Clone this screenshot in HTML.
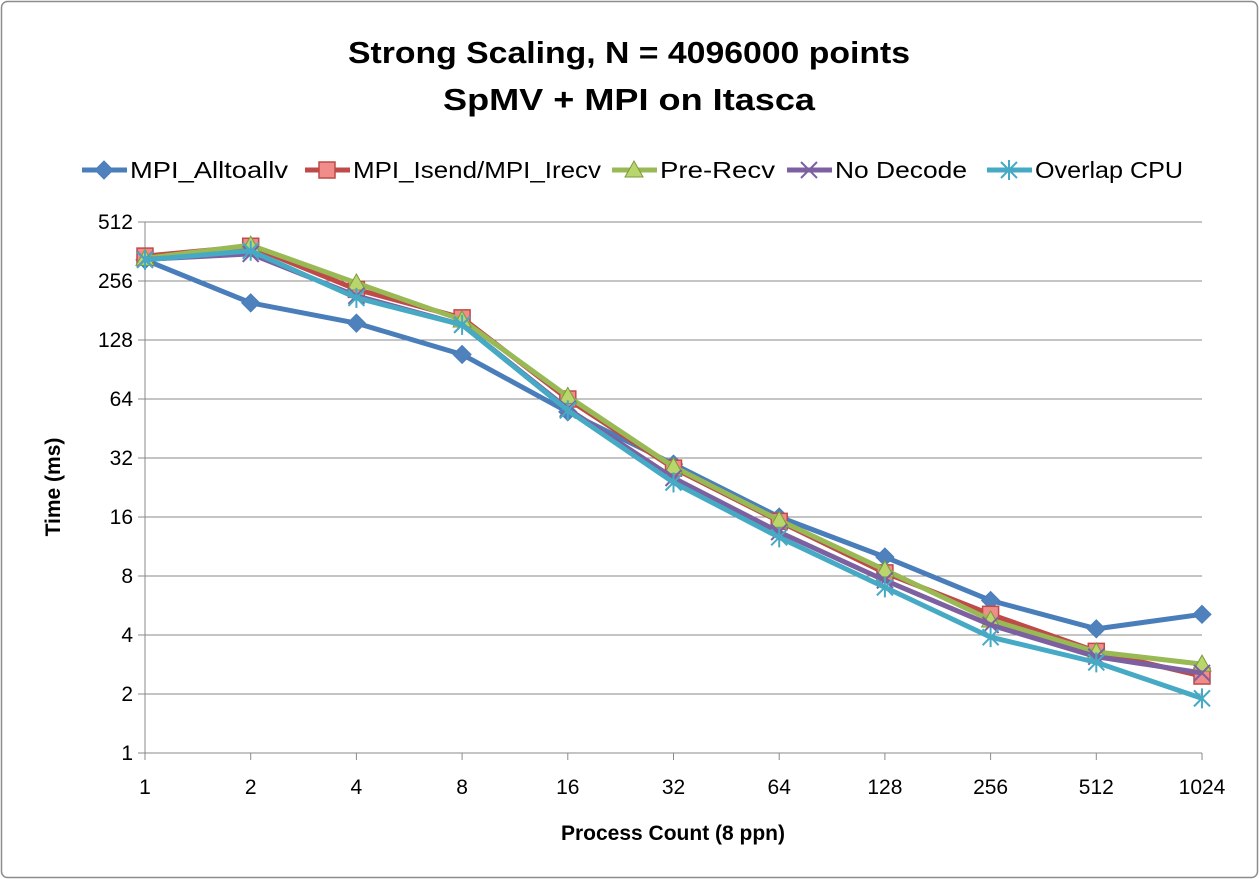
<!DOCTYPE html>
<html><head><meta charset="utf-8"><style>
html,body{margin:0;padding:0;background:#fff;}
svg{display:block;font-family:"Liberation Sans",Arial,sans-serif;}
</style></head><body>
<svg id="chart" width="1259" height="879" viewBox="0 0 1259 879" xmlns="http://www.w3.org/2000/svg">
<rect x="1.5" y="1.5" width="1256" height="876" rx="6" fill="#fff" stroke="#8c8c8c" stroke-width="1.5"/>
<text x="629" y="63" text-anchor="middle" font-size="31" font-weight="bold" textLength="562" lengthAdjust="spacingAndGlyphs">Strong Scaling, N = 4096000 points</text>
<text x="629" y="110" text-anchor="middle" font-size="31" font-weight="bold" textLength="372" lengthAdjust="spacingAndGlyphs">SpMV + MPI on Itasca</text>
<g id="grid"></g>
<g id="axes"></g>
<g id="series"></g>
<g id="legend"></g>
<text transform="translate(60,487) rotate(-90)" text-anchor="middle" font-size="21" font-weight="bold">Time (ms)</text>
<text x="673" y="840" text-anchor="middle" font-size="21" font-weight="bold">Process Count (8 ppn)</text>
</svg>
<script>
const categories = [1,2,4,8,16,32,64,128,256,512,1024];
const yTicks = [1,2,4,8,16,32,64,128,256,512];
const seriesNames = ["MPI_Alltoallv","MPI_Isend/MPI_Irecv","Pre-Recv","No Decode","Overlap CPU"];
const alltoallv = [328,198,156,108,55,29.8,16,10,6,4.3,5.1];
const isend = [343,385,232,166,64,28.4,15.2,8.3,5.1,3.3,2.47];
const preRecv = [334,390,250,162,66,28.9,15.4,8.6,4.77,3.28,2.84];
const noDecode = [330,352,215,153,57,25.3,13.4,7.6,4.5,3.1,2.56];
const overlapCpu = [328,365,210,153,56,24,12.6,7.0,3.9,2.9,1.9];

const NS="http://www.w3.org/2000/svg";
const L=145,R=1202,T=222,B=753;
const xPos=i=>L+i*(R-L)/(categories.length-1);
const yPos=v=>B-(Math.log2(v)-0)/9*(B-T);
function mk(t,a,p){const e=document.createElementNS(NS,t);for(const k in a)e.setAttribute(k,a[k]);p.appendChild(e);return e;}
const grid=document.getElementById('grid'),axes=document.getElementById('axes'),ser=document.getElementById('series'),leg=document.getElementById('legend');
yTicks.forEach(v=>{const y=yPos(v);
 if(v>1){const g=mk('line',{x1:L,x2:R,y1:y,y2:y,stroke:'#8a8a8a','stroke-width':1},grid);}
 const tk=mk('line',{x1:L-7,x2:L,y1:y,y2:y,stroke:'#8a8a8a'},axes);
 const t=mk('text',{x:L-12,y:y+7,'text-anchor':'end','font-size':21},axes);t.textContent=v;
 
 
});
let ax=mk('line',{x1:L,x2:L,y1:T,y2:B,stroke:'#8a8a8a'},axes);
ax=mk('line',{x1:L,x2:R,y1:B,y2:B,stroke:'#8a8a8a'},axes);
categories.forEach((c,i)=>{const x=xPos(i);
 const tk=mk('line',{x1:x,x2:x,y1:B,y2:B+7,stroke:'#8a8a8a'},axes);
 const t=mk('text',{x:x,y:B+41,'text-anchor':'middle','font-size':21},axes);t.textContent=c;
 
 
});
const styles=[
 {c:'#4a7ebb',f:'#4f81bd',m:'diamond'},
 {c:'#be4b48',f:'#f08c8a',m:'square'},
 {c:'#98b954',f:'#b8d66c',m:'triangle'},
 {c:'#7d60a0',f:'#8064a2',m:'x'},
 {c:'#46aac5',f:'#4bacc6',m:'star'}];
function marker(m,x,y,s,p){
 let e;
 if(m==='diamond')e=mk('polygon',{points:`${x},${y-9} ${x+9},${y} ${x},${y+9} ${x-9},${y}`,fill:s.f,stroke:s.c,'stroke-width':1},p);
 else if(m==='square')e=mk('rect',{x:x-8,y:y-8,width:16,height:16,fill:s.f,stroke:s.c,'stroke-width':1.5},p);
 else if(m==='triangle')e=mk('polygon',{points:`${x},${y-9} ${x+9},${y+7} ${x-9},${y+7}`,fill:s.f,stroke:'#7a9a3c','stroke-width':1},p);
 else if(m==='x')e=mk('path',{d:`M${x-8},${y-8}L${x+8},${y+8}M${x+8},${y-8}L${x-8},${y+8}`,stroke:s.c,'stroke-width':2},p);
 else e=mk('path',{d:`M${x-8},${y-8}L${x+8},${y+8}M${x+8},${y-8}L${x-8},${y+8}M${x},${y-10}L${x},${y+10}`,stroke:s.c,'stroke-width':2},p);
 
 
}
[alltoallv,isend,preRecv,noDecode,overlapCpu].forEach((d,si)=>{const s=styles[si];
 const g=mk('g',{},ser);
 
 
 const pl=mk('polyline',{points:d.map((v,i)=>xPos(i)+','+yPos(v)).join(' '),fill:'none',stroke:s.c,'stroke-width':5,'stroke-linejoin':'round'},g);
 
 
 d.forEach((v,i)=>marker(s.m,xPos(i),yPos(v),s,g));
});
const legX=[82,305,612,787,987];
const legW=[158,248,115,132,148];
seriesNames.forEach((n,i)=>{const s=styles[i];const g=mk('g',{},leg);
 
 
 const x=legX[i],y=170;
 mk('line',{x1:x,x2:x+45,y1:y,y2:y,stroke:s.c,'stroke-width':5},g);
 marker(s.m,x+22,y,s,g);
 const t=mk('text',{x:x+48,y:y+8,'font-size':23,textLength:legW[i],lengthAdjust:'spacingAndGlyphs'},g);t.textContent=n;
});
</script>
</body></html>
